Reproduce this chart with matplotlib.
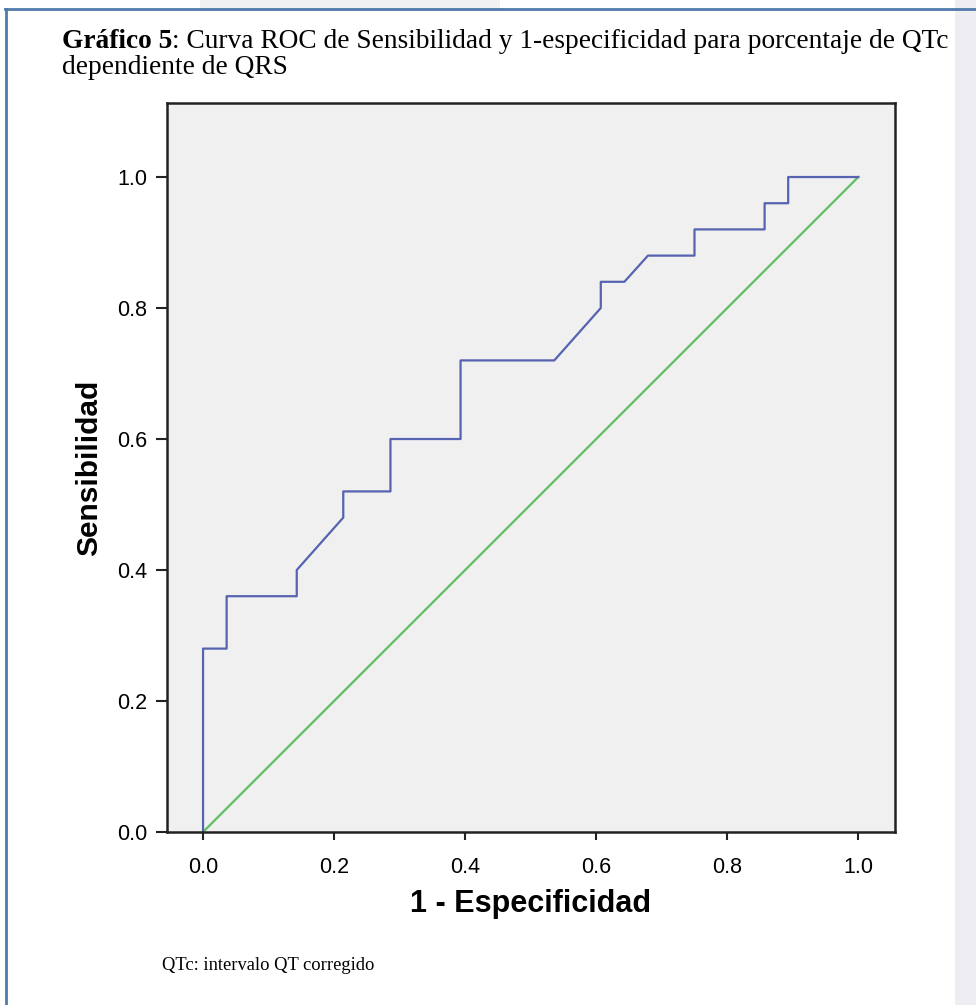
import matplotlib.pyplot as plt
from matplotlib.patches import Rectangle
from matplotlib.lines import Line2D

# ROC curve points (1 - especificidad, sensibilidad)
fpr = [0.0, 0.0, 0.036, 0.036, 0.143, 0.143, 0.214, 0.214, 0.286, 0.286,
       0.393, 0.393, 0.536, 0.607, 0.607, 0.643, 0.679, 0.750, 0.750,
       0.857, 0.857, 0.893, 0.893, 1.0]
tpr = [0.0, 0.28, 0.28, 0.36, 0.36, 0.40, 0.48, 0.52, 0.52, 0.60,
       0.60, 0.72, 0.72, 0.80, 0.84, 0.84, 0.88, 0.88, 0.92,
       0.92, 0.96, 0.96, 1.0, 1.0]
ref_x = [0.0, 1.0]
ref_y = [0.0, 1.0]
ticks = [0.0, 0.2, 0.4, 0.6, 0.8, 1.0]

W, H = 976, 1005
fig = plt.figure(figsize=(W / 100, H / 100), dpi=100)
fig.patch.set_facecolor("white")

# page decoration: light strip on the right and blue frame
fig.patches.append(Rectangle((955 / W, 0), 21 / W, 1, transform=fig.transFigure,
                             facecolor="#eeeef2", edgecolor="none", zorder=0))
fig.patches.append(Rectangle((200 / W, 1 - 9 / H), 300 / W, 9 / H, transform=fig.transFigure,
                             facecolor="#f1f1f4", edgecolor="none", zorder=0))
fig.lines.append(Line2D([6 / W, 6 / W], [0, 1 - 9 / H], transform=fig.transFigure,
                        color="#4f7bab", lw=2))
fig.lines.append(Line2D([5 / W, 1], [1 - 9 / H, 1 - 9 / H], transform=fig.transFigure,
                        color="#4f7bab", lw=2))

# title (bold part + regular part)
tsize = 19.7
t1 = fig.text(62 / W, 1 - 41 / H, "Gráfico 5", family="Liberation Serif", fontweight="bold",
              fontsize=tsize, va="center", ha="left")
fig.canvas.draw()
bb = t1.get_window_extent()
fig.text(bb.x1 / W, 1 - 41 / H, ": Curva ROC de Sensibilidad y 1-especificidad para porcentaje de QTc",
         family="Liberation Serif", fontsize=tsize, va="center", ha="left")
fig.text(62 / W, 1 - 68 / H, "dependiente de QRS", family="Liberation Serif",
         fontsize=tsize, va="center", ha="left")

ax = fig.add_axes([167 / W, 1 - 832 / H, (895 - 167) / W, (832 - 103) / H])
ax.set_facecolor("#f0f0f0")
ax.plot(ref_x, ref_y, color="#5fbf5f", lw=1.6)
ax.plot(fpr, tpr, color="#5663b0", lw=1.6)

ax.set_xlim(-0.055, 1.056)
ax.set_ylim(0.0, 1.113)
ax.set_xticks(ticks)
ax.set_yticks(ticks)
ax.set_xticklabels([f"{t:.1f}" for t in ticks], family="Liberation Sans", fontsize=15.5)
ax.set_yticklabels([f"{t:.1f}" for t in ticks], family="Liberation Sans", fontsize=15.5)
ax.tick_params(axis="y", direction="out", length=8, width=1.5, color="#222222", pad=6)
ax.tick_params(axis="x", direction="out", length=6, width=1.5, color="#222222", pad=12)
for s in ax.spines.values():
    s.set_linewidth(1.8)
    s.set_color("#222222")

ax.set_xlabel("1 - Especificidad", family="Liberation Sans", fontweight="bold",
              fontsize=22, labelpad=8)
ax.set_ylabel("Sensibilidad", family="Liberation Sans", fontweight="bold",
              fontsize=21.5, labelpad=10)

fig.text(162 / W, 1 - 965 / H, "QTc: intervalo QT corregido", family="Liberation Serif",
         fontsize=13.3, va="center", ha="left")

plt.savefig("out.png", dpi=100)
